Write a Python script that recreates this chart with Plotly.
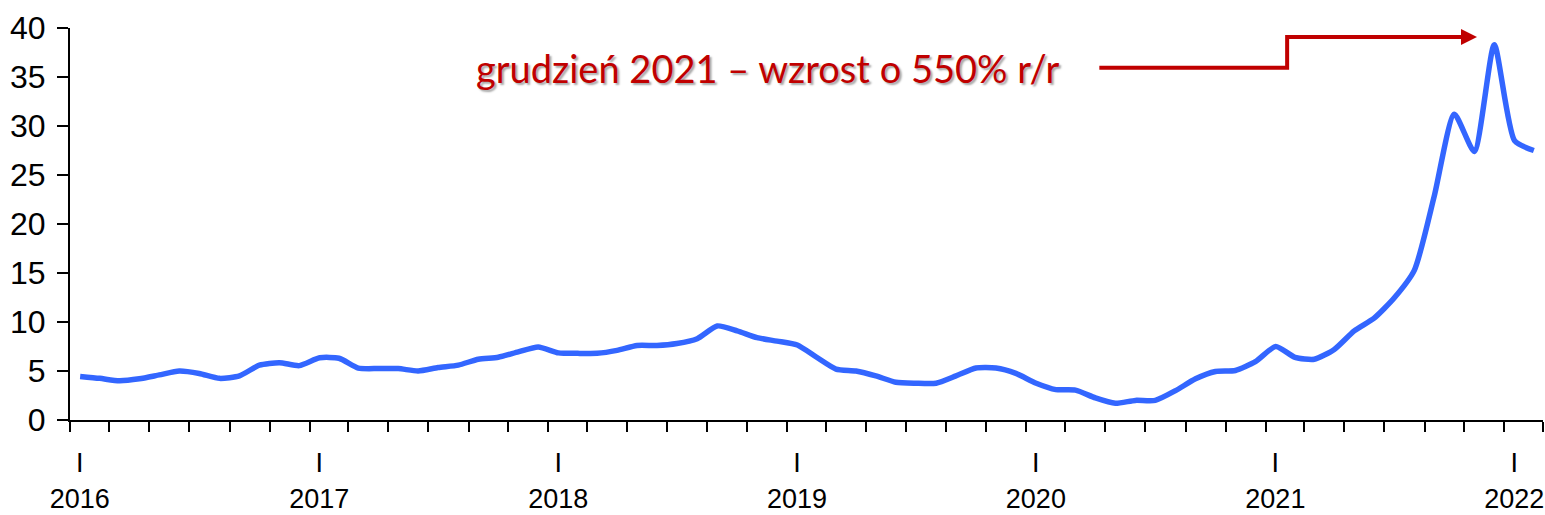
import plotly.graph_objects as go

# Monthly observations, January 2016 - February 2022
months = [f"{y}-{m:02d}-01" for y in range(2016, 2023) for m in range(1, 13)][:74]

values_2016 = [4.45, 4.25, 4.0, 4.2, 4.6, 5.0, 4.75, 4.25, 4.5, 5.6, 5.85, 5.55]
values_2017 = [6.35, 6.3, 5.3, 5.25, 5.25, 5.0, 5.35, 5.6, 6.2, 6.4, 6.95, 7.45]
values_2018 = [6.85, 6.8, 6.8, 7.1, 7.6, 7.6, 7.8, 8.3, 9.6, 9.1, 8.4, 8.05]
values_2019 = [7.65, 6.4, 5.2, 5.0, 4.5, 3.85, 3.75, 3.75, 4.5, 5.3, 5.3, 4.75]
values_2020 = [3.75, 3.1, 3.05, 2.25, 1.7, 2.0, 2.0, 3.0, 4.2, 4.95, 5.05, 5.95]
values_2021 = [7.5, 6.4, 6.2, 7.2, 9.1, 10.4, 12.45, 15.3, 22.9, 31.2, 27.4, 38.3]
values_2022 = [28.5, 27.5]
values = (values_2016 + values_2017 + values_2018 + values_2019
          + values_2020 + values_2021 + values_2022)

years = ["2016", "2017", "2018", "2019", "2020", "2021", "2022"]
year_tickvals = [f"{y}-01-16" for y in years]
year_ticktext = [f"I<br>{y}" for y in years]

y_ticks = [0, 5, 10, 15, 20, 25, 30, 35, 40]

note_text = "grudzień 2021 – wzrost o 550% r/r"
RED = "#C00000"
BLUE = "#3366FF"

fig = go.Figure()
fig.add_trace(go.Scatter(
    x=months, y=values,
    xperiod="M1", xperiodalignment="middle",
    mode="lines",
    line=dict(color=BLUE, width=5.5, shape="spline", smoothing=0.6),
    hoverinfo="skip", showlegend=False,
))

axis_font = dict(family="Liberation Sans, Arial, sans-serif", color="black")

fig.update_layout(
    width=1545, height=515,
    margin=dict(l=70, r=1, t=28, b=92),
    paper_bgcolor="white", plot_bgcolor="white",
    xaxis=dict(
        type="date", range=["2016-01-01", "2022-03-01"],
        showline=True, linecolor="black", linewidth=2,
        showgrid=False, zeroline=False,
        tickmode="array", tickvals=year_tickvals, ticktext=year_ticktext,
        ticks="", ticklabelstandoff=18, ticklabeloverflow="allow",
        tickfont=dict(size=27, **axis_font),
        minor=dict(tick0="2016-01-01", dtick="M2", ticks="outside",
                   ticklen=10, tickwidth=2, tickcolor="black", showgrid=False),
    ),
    yaxis=dict(
        range=[0, 40], tickmode="array", tickvals=y_ticks,
        showline=True, linecolor="black", linewidth=2,
        showgrid=False, zeroline=False,
        ticks="outside", ticklen=11, tickwidth=2, tickcolor="black",
        tickfont=dict(size=32, **axis_font),
        ticklabelstandoff=5,
    ),
)

# Step-shaped pointer from the note to the December 2021 peak
fig.add_shape(
    type="path", xref="paper", yref="paper",
    path="M 0.6988,0.8987 L 0.8263,0.8987 L 0.8263,0.9772 L 0.9470,0.9772",
    line=dict(color=RED, width=4),
)
fig.add_annotation(
    x=0.9552, y=0.9772, xref="paper", yref="paper",
    text="", showarrow=True, arrowhead=2, arrowsize=0.8, arrowwidth=4,
    arrowcolor=RED, ax=-40, ay=0, standoff=0,
)
fig.add_annotation(
    x=0.4742, y=0.8987, xref="paper", yref="paper",
    text=note_text, showarrow=False,
    xanchor="center", yanchor="middle",
    font=dict(family="Lato, sans-serif", size=38, color=RED,
              shadow="2px 2px 2px rgba(0,0,0,0.35)"),
)

fig.write_html("out.html")
